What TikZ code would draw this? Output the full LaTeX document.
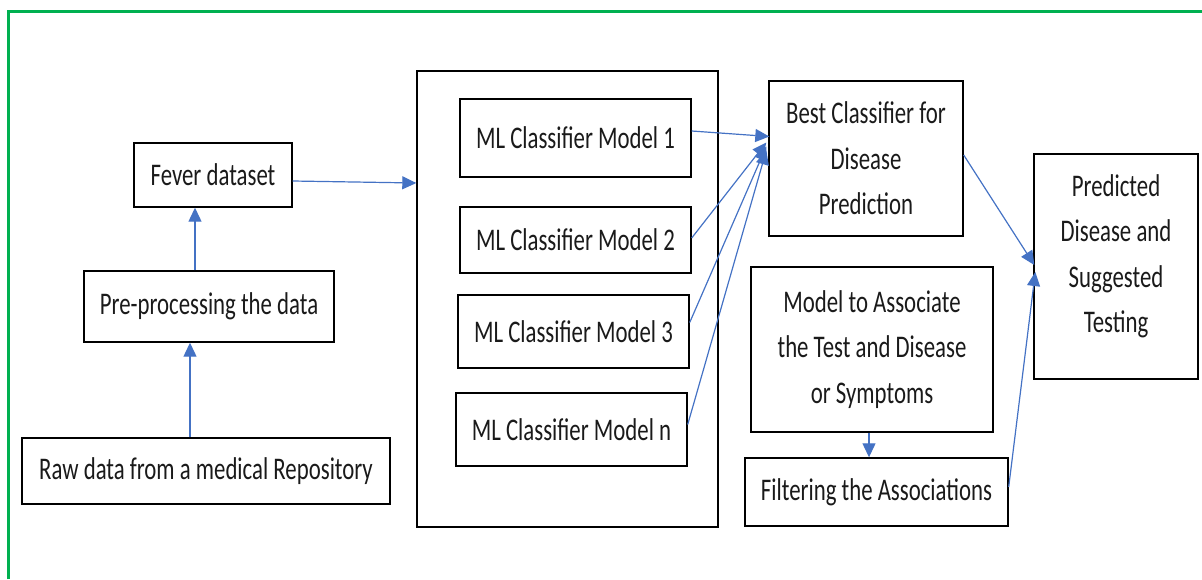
\documentclass[tikz,border=0pt]{standalone}
\usepackage{fontspec}
\setmainfont{Carlito}[FakeStretch=0.724]
\usetikzlibrary{arrows.meta}
\definecolor{frameGreen}{HTML}{00B050}
\definecolor{flowBlue}{HTML}{4472C4}
\definecolor{inkDark}{HTML}{1A1A1A}
\begin{document}
\begin{tikzpicture}[x=1pt,y=-1pt,
  every node/.style={font=\fontsize{31.5}{45.5}\selectfont, text=inkDark},
  box/.style={draw=black, line width=1.4pt, inner sep=0pt, align=center},
  flow/.style={draw=flowBlue, line width=1.2pt, -{Triangle[length=14pt,width=13pt]}}]
\useasboundingbox (0,0) rectangle (1202,579);
% outer frame (top and left edges only)
\draw[frameGreen, line width=3pt] (8,579) -- (8,11) -- (1202,11);

% left column
\node[box, minimum width=158, minimum height=64] (fever) at (213,175) {Fever dataset};
\node[box, minimum width=250, minimum height=71] (pre) at (209,306.5) {Pre-processing the data};
\node[box, minimum width=368, minimum height=66] (raw) at (206,471) {Raw data from a medical Repository};

% classifier container and models
\node[box, minimum width=301, minimum height=456] (cont) at (567.5,299) {};
\node[box, minimum width=231, minimum height=78] (m1) at (575.5,138) {ML Classifier Model 1};
\node[box, minimum width=231, minimum height=66] (m2) at (575.5,240) {ML Classifier Model 2};
\node[box, minimum width=231, minimum height=73] (m3) at (573.5,331.5) {ML Classifier Model 3};
\node[box, minimum width=231, minimum height=73] (mn) at (571.5,429.5) {ML Classifier Model n};

% right part
\node[box, minimum width=194, minimum height=155] (best) at (866,158.5) {Best Classifier for\\Disease\\Prediction};
\node[box, minimum width=242, minimum height=165] (assoc) at (872,349.5) {Model to Associate\\the Test and Disease\\or Symptoms};
\node[box, minimum width=263, minimum height=68] (filt) at (876.5,492) {Filtering the Associations};
\node[box, minimum width=164, minimum height=225] (pred) at (1116,266.5) {};
\node[align=center, inner sep=0pt] (predtext) at ([yshift=10]pred.center) {Predicted\\Disease and\\Suggested\\Testing};

% connectors
\draw[flow] ([xshift=-16]raw.north) -- ([xshift=-16]raw.north |- pre.south);
\draw[flow] ([xshift=-14]pre.north) -- ([xshift=-14]pre.north |- fever.south);
\draw[flow] ([yshift=-6]fever.east) -- ([yshift=116]cont.west);

\draw[flow] ([yshift=7]m1.east) -- ([xshift=1,yshift=22]best.west);
\draw[flow] ([yshift=2]m2.east) -- ([xshift=-2,yshift=16]best.west);
\draw[flow] ([yshift=9]m3.east) -- ([xshift=-2,yshift=12]best.west);
\draw[flow] ([yshift=5]mn.east) -- ([xshift=-2,yshift=8]best.west);

\draw[flow] ([yshift=3.5]best.east) -- ([xshift=1,yshift=1.5]pred.west);
\draw[flow] ([xshift=-3]assoc.south) -- ([xshift=-3]assoc.south |- filt.north);
\draw[flow] ([yshift=5]filt.east) -- ([xshift=2,yshift=-5.5]pred.west);
\end{tikzpicture}
\end{document}
